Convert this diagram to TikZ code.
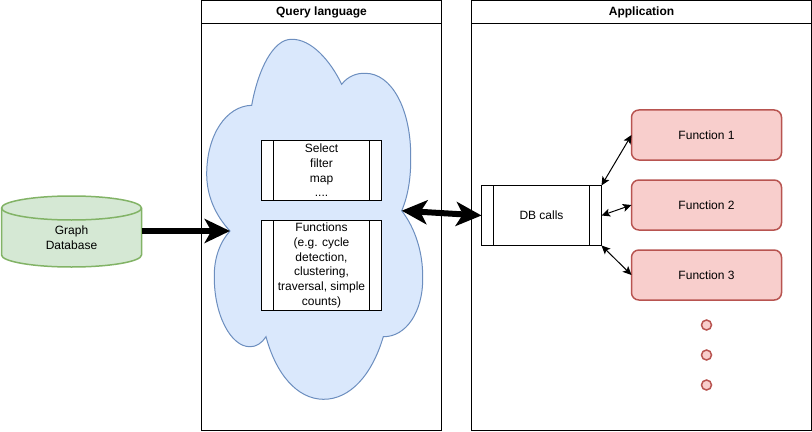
\documentclass[tikz,border=0pt]{standalone}
\usepackage{fontspec}
\setmainfont{Liberation Sans}
\usepackage{xcolor}
\usetikzlibrary{arrows.meta}
\definecolor{cloudfill}{HTML}{DAE8FC}
\definecolor{cloudline}{HTML}{6C8EBF}
\definecolor{funcfill}{HTML}{F8CECC}
\definecolor{funcline}{HTML}{B85450}
\definecolor{dbfill}{HTML}{D5E8D4}
\definecolor{dbline}{HTML}{82B366}
\tikzset{
  every node/.style={font=\fontsize{9}{11}\selectfont,align=center,outer sep=0pt,inner sep=0pt},
  panel/.style={draw,line width=0.75pt,fill=white},
  panelhead/.style={panel,minimum height=17.25pt,font=\fontsize{9}{11}\selectfont\bfseries},
  subproc/.style={draw,line width=0.75pt,fill=white,minimum width=90pt,
    path picture={
      \draw[line width=0.75pt] ([xshift=9pt]path picture bounding box.north west)--([xshift=9pt]path picture bounding box.south west);
      \draw[line width=0.75pt] ([xshift=-9pt]path picture bounding box.north east)--([xshift=-9pt]path picture bounding box.south east);
    }},
  func/.style={draw=funcline,fill=funcfill,line width=1.125pt,rounded corners=5.5pt,minimum width=112.5pt,minimum height=37.5pt},
  dot/.style={circle,draw=funcline,fill=funcfill,line width=1.125pt,minimum size=7.5pt},
  thick arrow/.style={line width=4.5pt,-{Stealth[length=19pt,width=18pt,inset=5pt]}},
  thin arrow/.style={line width=0.75pt,{Stealth[length=6.5pt,width=6pt,inset=1.5pt]}-{Stealth[length=6.5pt,width=6pt,inset=1.5pt]}},
}
\begin{document}
\begin{tikzpicture}[x=0.75pt,y=-0.75pt]
  \useasboundingbox (0,0) rectangle (812,431);
  % panels
  \node[panel,minimum width=180pt,minimum height=305.25pt] (querybody) at (321.5,227) {};
  \node[panelhead,minimum width=180pt] (queryhead) at (321.5,12) {Query language};
  \node[panel,minimum width=255pt,minimum height=305.25pt] (appbody) at (641.5,227) {};
  \node[panelhead,minimum width=255pt] (apphead) at (641.5,12) {Application};
  % cloud
  \draw[draw=cloudline,fill=cloudfill,line width=0.75pt]
    (251.7,105.3) .. controls (258,70) and (273,39) .. (291.7,39.3)
    .. controls (311,39) and (330,60) .. (341.7,84.3)
    .. controls (348,76) and (357,73) .. (365,73.3)
    .. controls (392,73) and (411,110) .. (410.7,156.7)
    .. controls (411,178) and (408,196) .. (401.7,210.7)
    .. controls (415,228) and (423,252) .. (422.7,278)
    .. controls (423,312) and (406,337) .. (383.3,336.7)
    .. controls (372,375) and (350,399.5) .. (323.3,399.3)
    .. controls (297,399) and (276,374) .. (266,336.7)
    .. controls (262,343) and (256,347) .. (250,346.7)
    .. controls (231,347) and (214,315) .. (214.3,276.7)
    .. controls (214,258) and (220,242) .. (230,231)
    .. controls (215,215) and (206.5,195) .. (206.7,173.3)
    .. controls (207,135) and (226,106) .. (251.7,105.3) -- cycle;
  \coordinate (cloudleft) at (230,231);
  \coordinate (cloudright) at (401.7,210.7);
  % boxes
  \node[subproc,minimum height=45pt] (selectbox) at (321.5,170.5) {Select\\filter\\map\\....};
  \node[subproc,minimum height=67.5pt] (funcsbox) at (321.5,265.5) {Functions\\(e.g. cycle\\detection,\\clustering,\\traversal, simple\\counts)};
  \node[subproc,minimum height=45pt] (dbcalls) at (541.5,215.5) {DB calls};
  \node[func] (funcone) at (706.5,135) {Function 1};
  \node[func] (functwo) at (706.5,205) {Function 2};
  \node[func] (functhree) at (706.5,275) {Function 3};
  \node[dot] (dotone) at (706.5,325) {};
  \node[dot] (dottwo) at (706.5,355) {};
  \node[dot] (dotthree) at (706.5,385) {};
  % cylinder
  \draw[draw=dbline,fill=dbfill,line width=1.125pt]
    (1.5,208) .. controls (1.5,201.5) and (33,196) .. (71.5,196)
    .. controls (110,196) and (141.5,201.5) .. (141.5,208)
    -- (141.5,255)
    .. controls (141.5,261.5) and (110,267) .. (71.5,267)
    .. controls (33,267) and (1.5,261.5) .. (1.5,255) -- cycle;
  \draw[draw=dbline,line width=1.125pt]
    (1.5,208) .. controls (1.5,214.5) and (33,220) .. (71.5,220)
    .. controls (110,220) and (141.5,214.5) .. (141.5,208);
  \node[minimum width=105pt,minimum height=26pt] (graphdb) at (71.5,238) {Graph\\Database};
  % arrows
  \draw[thick arrow] (graphdb.east |- cloudleft)--(cloudleft);
  \draw[thick arrow,{Stealth[length=19pt,width=18pt,inset=5pt]}-{Stealth[length=19pt,width=18pt,inset=5pt]}] (cloudright)--(dbcalls.west);
  \draw[thin arrow] (dbcalls.north east)--(funcone.west);
  \draw[thin arrow] (dbcalls.east)--(functwo.west);
  \draw[thin arrow] (dbcalls.south east)--(functhree.west);
\end{tikzpicture}
\end{document}
